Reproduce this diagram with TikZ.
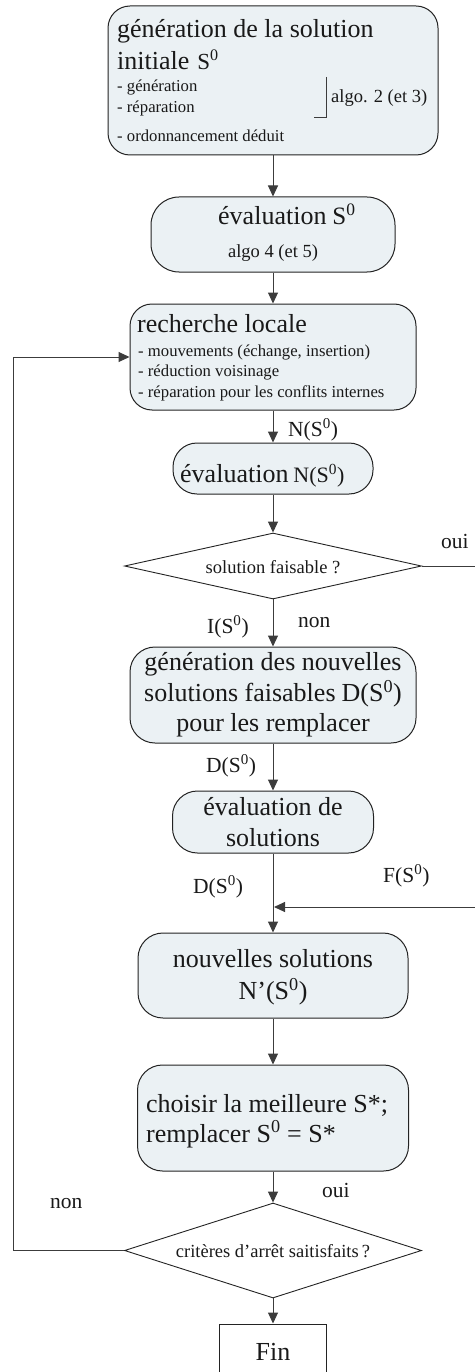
\documentclass[tikz,border=0pt]{standalone}
\usepackage{fontspec}
\setmainfont{Liberation Serif}
\usetikzlibrary{shapes.geometric,arrows.meta}

\definecolor{boxfill}{RGB}{235,241,244}
\definecolor{boxline}{RGB}{35,35,35}
\definecolor{linecol}{RGB}{60,60,60}
\definecolor{ink}{RGB}{25,25,25}

% font size helpers (size, baselineskip)
\newcommand\fsz[2]{\fontsize{#1}{#2}\selectfont}
\newcommand\zsup{\textsuperscript{0}}

\tikzset{
  procbox/.style={draw=boxline, fill=boxfill, line width=1pt,
                  rounded corners=22pt, inner sep=0pt},
  testbox/.style={draw=boxline, line width=0.9pt, diamond, inner sep=0pt},
  endbox/.style={draw=boxline, line width=1pt, inner sep=0pt},
  link/.style={draw=linecol, line width=1pt,
               -{Triangle[length=11pt,width=10pt]}},
  plain/.style={draw=linecol, line width=1pt},
  txt/.style={inner sep=0pt, text=ink},
  big/.style={txt, font=\fsz{26}{31}},
  small/.style={txt, font=\fsz{16.7}{20}},
  mid/.style={txt, font=\fsz{18.5}{22}},
  lab/.style={txt, font=\fsz{21.5}{25}},
}

\begin{document}
\begin{tikzpicture}[x=1pt, y=-1pt]
\useasboundingbox (0,0) rectangle (474,1372);

% ---- boxes ----
\node[procbox, minimum width=330pt, minimum height=149pt] (b1) at (273,80.5) {};
\node[procbox, rounded corners=28pt, minimum width=244pt, minimum height=75pt]
     (b2) at (273,234.5) {};
\node[procbox, minimum width=286pt, minimum height=106pt] (b3) at (273,357) {};
\node[procbox, rounded corners=24pt, minimum width=200pt, minimum height=51pt]
     (b4) at (273,468.5) {};
\node[testbox, minimum width=297pt, minimum height=66pt, aspect=4.5]
     (d1) at (273,566) {};
\node[procbox, rounded corners=25pt, minimum width=286pt, minimum height=96pt]
     (b5) at (273,695) {};
\node[procbox, rounded corners=25pt, minimum width=201pt, minimum height=62pt]
     (b6) at (273,822) {};
\node[procbox, rounded corners=25pt, minimum width=270pt, minimum height=85pt]
     (b7) at (273,975.5) {};
\node[procbox, rounded corners=25pt, minimum width=271pt, minimum height=106pt]
     (b8) at (273,1118) {};
\node[testbox, minimum width=297pt, minimum height=95pt, aspect=3.1]
     (d2) at (273,1250.5) {};
\node[endbox, minimum width=107pt, minimum height=60pt] (fin) at (273,1354) {};

% ---- texts: initial solution ----
\node[big, anchor=base west] (t1a) at (117,38) {génération de la solution};
\node[big, anchor=base west] (t1b) at (117,70)
     {initiale\hspace{8pt}{\fsz{23}{23}S\zsup}};
\node[small, anchor=base west] (t1c) at (117,92)  {- génération};
\node[small, anchor=base west] (t1d) at (117,113) {- réparation};
\node[small, anchor=base west] (t1e) at (117,142) {- ordonnancement déduit};
\node[mid, anchor=base west] (t1f) at (331,103) {algo. 2 (et 3)};
\coordinate (br1) at (326,77);
\coordinate (br2) at (326,118);
\coordinate (br3) at (314,118);
\draw[plain] (br1) -- (br2) -- (br3);

% ---- evaluation S0 ----
\node[big, anchor=base west] (t2a) at (218,225)
     {évaluation\hspace{6pt}{\fsz{25}{25}S\zsup}};
\node[mid, anchor=base] (t2b) at (273,258) {algo 4 (et 5)};

% ---- local search ----
\node[big, anchor=base west] (t3a) at (137,332) {recherche locale};
\node[small, anchor=base west] (t3b) at (138,356) {- mouvements (échange, insertion)};
\node[small, anchor=base west] (t3c) at (138,376.5) {- réduction voisinage};
\node[small, anchor=base west] (t3d) at (138,397) {- réparation pour les conflits internes};

% ---- evaluation N(S0) ----
\node[big, anchor=base west] (t4) at (180,482)
     {évaluation\hspace{5pt}{\fsz{22}{22}N(S\zsup)}};

% ---- feasibility test ----
\node[mid, anchor=base] (t5) at (273,573) {solution faisable ?};

% ---- repair ----
\node[big, align=center, font=\fsz{26}{30.5}] (t6) at (273,695)
     {génération des nouvelles\\solutions faisables\hspace{6pt}D(S\zsup)\\pour les remplacer};
\node[big, align=center, font=\fsz{26}{31}] (t7) at (273,822)
     {évaluation de\\solutions};
\node[big, align=center, font=\fsz{26}{32}] (t8) at (273,977)
     {nouvelles solutions\\N’(S\zsup)};
\node[big, anchor=base west] (t9a) at (146,1112) {choisir la meilleure S*;};
\node[big, anchor=base west] (t9b) at (146,1142) {remplacer S\zsup{} = S*};

% ---- stopping test ----
\node[mid, anchor=base] (t10) at (273,1257) {critères d’arrêt saitisfaits\,?};
\node[big, anchor=base] (t11) at (273,1360) {Fin};

% ---- connectors ----
\draw[link] (b1.south) -- (b2.north);
\draw[link] (b2.south) -- (b3.north);
\draw[link] (b3.south) -- (b4.north);
\draw[link] (b4.south) -- (d1.north);
\draw[link] (d1.south) -- (b5.north);
\draw[link] (b5.south) -- (b6.north);
\draw[link] (b6.south) -- (b7.north);
\draw[link] (b7.south) -- (b8.north);
\draw[link] (b8.south) -- (d2.north);
\draw[link] (d2.south) -- (fin.north);

% feasible branch joins below the evaluation of solutions
\coordinate (r1) at (476,566);
\coordinate (r2) at (476,907);
\coordinate (m)  at (274,907);
\draw[link] (d1.east) -- (r1) -- (r2) -- (m);

% loop back to the local search
\coordinate (l1) at (13,1250.5);
\coordinate (l2) at (13,357);
\draw[link] (d2.west) -- (l1) -- (l2) -- (b3.west);

% ---- connector labels ----
\node[lab, anchor=base west] (n1) at (288,436) {N(S\zsup)};
\node[lab, anchor=base west] (n2) at (441,548) {oui};
\node[lab, anchor=base west] (n3) at (207,633) {I(S\zsup)};
\node[lab, anchor=base west] (n4) at (298,627) {non};
\node[lab, anchor=base west] (n5) at (206,772) {D(S\zsup)};
\node[lab, anchor=base west] (n6) at (193,893) {D(S\zsup)};
\node[lab, anchor=base west] (n7) at (383,882) {F(S\zsup)};
\node[lab, anchor=base west] (n8) at (322,1197) {oui};
\node[lab, anchor=base west] (n9) at (50,1208) {non};
\end{tikzpicture}
\end{document}
